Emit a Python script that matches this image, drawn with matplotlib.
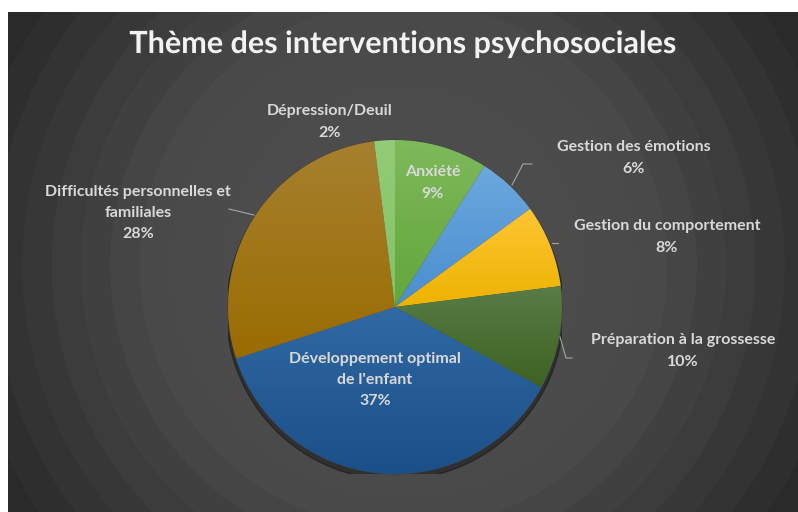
import matplotlib
matplotlib.use("Agg")
import matplotlib.pyplot as plt
import matplotlib.colors as mcolors
import matplotlib.patheffects as pe
import numpy as np

# data
labels = ["Anxiété", "Gestion des émotions", "Gestion du comportement",
          "Préparation à la grossesse", "Développement optimal\nde l'enfant",
          "Difficultés personnelles et\nfamiliales", "Dépression/Deuil"]
values = [9, 6, 8, 10, 37, 28, 2]
top_colors = ["#7eb95a", "#6ba8de", "#ffc535", "#587d47", "#3069a4", "#a6802f", "#94cb78"]
bot_colors = ["#62a63b", "#4a8ecf", "#ecb300", "#3d6222", "#1b4f88", "#9a6c00", "#84c264"]

W, H = 798, 512
fig = plt.figure(figsize=(W / 100, H / 100), dpi=100)
fig.patch.set_facecolor("white")

# background with banded radial gradient
bg = fig.add_axes([0, 0, 1, 1])
bg.axis("off")
x0, y0 = 8, 12
yy, xx = np.mgrid[y0:H, x0:W]
r = np.hypot(xx - 403, yy - 265)
r = r / r.max()
r = np.floor(r * 16) / 16
cmap_bg = mcolors.LinearSegmentedColormap.from_list("bg", ["#505050", "#4a4a4a", "#262626"])
bg.imshow(r, cmap=cmap_bg, extent=(x0, W, H, y0), aspect="auto", vmin=0, vmax=1, zorder=0)
bg.set_xlim(0, W)
bg.set_ylim(H, 0)

# pie
cx, cy, rad = 395, 307, 167
pax = fig.add_axes([(cx - rad) / W, (H - cy - rad) / H, 2 * rad / W, 2 * rad / H])
pax.patch.set_alpha(0)
wedges, _ = pax.pie(values, startangle=90, counterclock=False, radius=1,
                    wedgeprops=dict(linewidth=0.6, edgecolor="#3a3a3a"))
# soft shadow under pie
shadow = plt.Circle((0.0, -0.025), 1.01, color="black", alpha=0.35, zorder=0)
pax.add_patch(shadow)
for w, c1, c2 in zip(wedges, top_colors, bot_colors):
    w.set_zorder(1)
    ext = w.get_path().get_extents()
    grad = np.linspace(0, 1, 256).reshape(-1, 1)
    cm = mcolors.LinearSegmentedColormap.from_list("g", [c1, c2])
    im = pax.imshow(grad, cmap=cm, extent=(ext.x0, ext.x1, ext.y0, ext.y1),
                    aspect="auto", zorder=2, interpolation="bilinear")
    im.set_clip_path(w)
pax.set_xlim(-1, 1)
pax.set_ylim(-1, 1)
pax.axis("off")

# overlay for text and leader lines
top = fig.add_axes([0, 0, 1, 1])
top.patch.set_alpha(0)
top.axis("off")
top.set_xlim(0, W)
top.set_ylim(H, 0)

font = "Lato"
tc = "#d9d9d9"
top.text(403, 44, "Thème des interventions psychosociales", ha="center", va="center",
         fontsize=22, fontweight="bold", color="#f2f2f2", family=font,
         path_effects=[pe.withSimplePatchShadow(offset=(1, -1.5), alpha=0.5)])

# slice labels (name + percent)
lab_pos = [(433, 183), (634, 158), (667, 237), (683, 351), (375, 380), (138, 213), (330, 122)]
for (lx, ly), lab, v in zip(lab_pos, labels, values):
    top.text(lx, ly, f"{lab}\n{v}%", ha="center", va="center", fontsize=11.5,
             fontweight="bold", color=tc, family=font, linespacing=1.65)

# leader lines
lc = "#a6a6a6"
top.plot([512, 523, 532], [185, 164, 164], color=lc, lw=0.8)
top.plot([552, 558], [243, 243], color=lc, lw=0.8)
top.plot([560, 566, 572], [337, 358, 358], color=lc, lw=0.8)
top.plot([229, 254], [209, 215], color=lc, lw=0.8)

fig.savefig("out.png", dpi=100, facecolor="white")
